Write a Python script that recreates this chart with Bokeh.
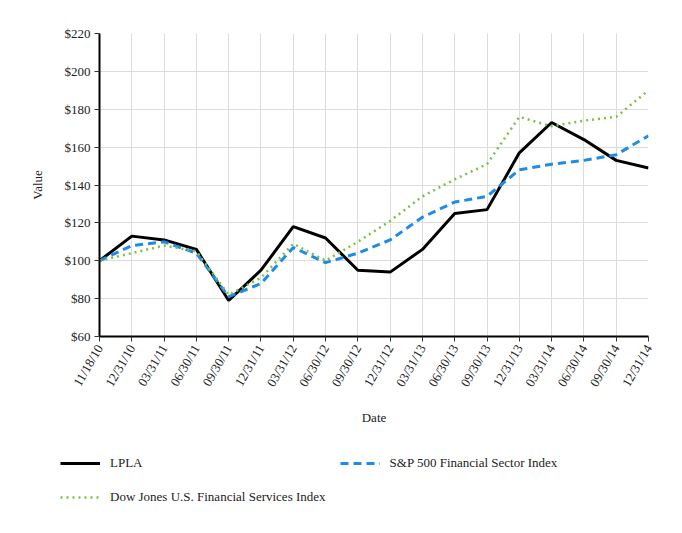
import math
from bokeh.plotting import figure
from bokeh.models import Range1d, FixedTicker, NumeralTickFormatter, Legend, LegendItem
from bokeh.embed import file_html
from bokeh.resources import INLINE

dates = ["11/18/10", "12/31/10", "03/31/11", "06/30/11", "09/30/11", "12/31/11",
         "03/31/12", "06/30/12", "09/30/12", "12/31/12", "03/31/13", "06/30/13",
         "09/30/13", "12/31/13", "03/31/14", "06/30/14", "09/30/14", "12/31/14"]
lpla = [100, 113, 111, 106, 79, 95, 118, 112, 95, 94, 106, 125, 127, 157, 173, 164, 153, 149]
sp500_fin = [100, 108, 110, 104, 81, 88, 107, 99, 104, 111, 123, 131, 134, 148, 151, 153, 156, 166]
dj_fin = [100, 104, 108, 105, 82, 91, 109, 100, 110, 121, 134, 143, 151, 176, 171, 174, 176, 190]
y_ticks = [60, 80, 100, 120, 140, 160, 180, 200, 220]
series_names = ["LPLA", "S&P 500 Financial Sector Index", "Dow Jones U.S. Financial Services Index"]

xs = list(range(len(dates)))
FONT = "Liberation Serif"

styles = {
    "lpla": dict(line_color="black", line_width=3),
    "sp": dict(line_color="#1e8ce6", line_width=3, line_dash="8 5"),
    "dj": dict(line_color="#7cc242", line_width=2.5, line_dash="2 4"),
}

p = figure(width=666, height=440, output_backend="svg", toolbar_location=None,
           x_range=Range1d(0, len(dates) - 1), y_range=Range1d(60, 220),
           min_border_left=99, min_border_right=18, min_border_top=33, min_border_bottom=104)
p.outline_line_color = None

p.line(xs, lpla, **styles["lpla"])
p.line(xs, sp500_fin, **styles["sp"])
p.line(xs, dj_fin, **styles["dj"])

p.xaxis.ticker = FixedTicker(ticks=xs)
p.xaxis.major_label_overrides = {i: d for i, d in enumerate(dates)}
p.xaxis.major_label_orientation = math.pi / 3
p.yaxis.ticker = FixedTicker(ticks=y_ticks)
p.yaxis.formatter = NumeralTickFormatter(format="$0")
p.xaxis.minor_tick_line_color = None
p.yaxis.minor_tick_line_color = None

for ax in (p.xaxis[0], p.yaxis[0]):
    ax.axis_line_color = "black"
    ax.axis_line_width = 2
    ax.major_tick_line_color = "#333333"
    ax.major_tick_out = 5
    ax.major_tick_in = 0
    ax.major_label_text_font = FONT
    ax.major_label_text_font_size = "13px"
    ax.major_label_text_color = "#222222"
    ax.axis_label_text_font = FONT
    ax.axis_label_text_font_size = "13px"
    ax.axis_label_text_font_style = "normal"
    ax.axis_label_text_color = "#222222"

p.xaxis.axis_label = "Date"
p.yaxis.axis_label = "Value"
p.xaxis.axis_label_standoff = 14
p.yaxis.axis_label_standoff = 17
p.xaxis.major_label_standoff = 4
p.yaxis.major_label_standoff = 4

p.xgrid.ticker = FixedTicker(ticks=xs)
p.ygrid.ticker = FixedTicker(ticks=y_ticks)
p.xgrid.grid_line_color = "#dcdcdc"
p.ygrid.grid_line_color = "#dcdcdc"

# legend panel below the chart (its lines lie outside its visible ranges)
lg = figure(width=666, height=77, output_backend="svg", toolbar_location=None,
            x_range=Range1d(-2, -1), y_range=Range1d(0, 1),
            min_border_left=0, min_border_right=0, min_border_top=0, min_border_bottom=0)
lg.axis.visible = False
lg.grid.visible = False
lg.outline_line_color = None
k_lpla = lg.line(xs[:1], lpla[:1], **styles["lpla"])
k_sp = lg.line(xs[:1], sp500_fin[:1], **styles["sp"])
k_dj = lg.line(xs[:1], dj_fin[:1], **styles["dj"])

legend = Legend(items=[
    LegendItem(label=series_names[0], renderers=[k_lpla]),
    LegendItem(label=series_names[2], renderers=[k_dj]),
    LegendItem(label=series_names[1], renderers=[k_sp]),
], ncols=2, location=(60, 10))
legend.border_line_color = None
legend.background_fill_alpha = 0
legend.padding = 0
legend.margin = 0
legend.spacing = 14
legend.glyph_width = 40
legend.glyph_height = 20
legend.label_height = 20
legend.label_standoff = 10
legend.label_text_font = FONT
legend.label_text_font_size = "13px"
legend.label_text_color = "#222222"
lg.add_layout(legend, "center")

open("out.html", "w").write(file_html([p, lg], INLINE))
